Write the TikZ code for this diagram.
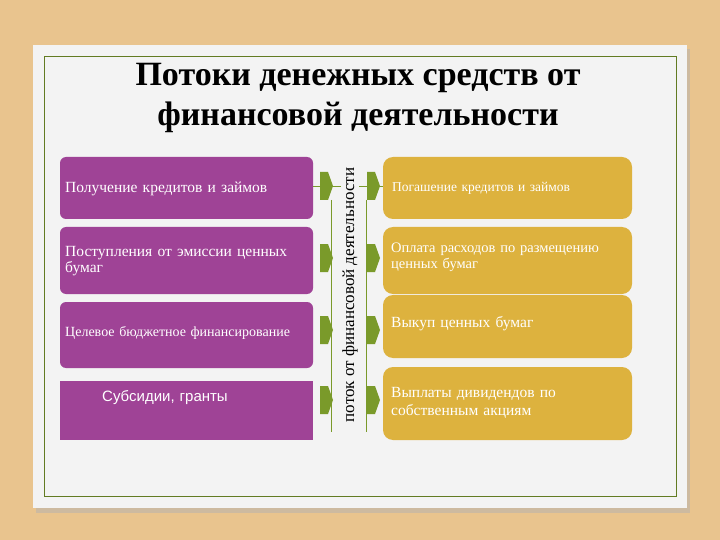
\documentclass[tikz,border=0pt]{standalone}
\usepackage{fontspec}
\setmainfont{Liberation Serif}
\newfontfamily\sansf{Liberation Sans}
\begin{document}
\begin{tikzpicture}[x=1pt,y=-1pt,
  btxt/.style={text=white,font=\fontsize{15.5}{16}\selectfont,align=left,anchor=west,text width=#1,inner sep=0pt},
  chev/.style={fill=leaf,draw=none}]
\definecolor{lilac}{HTML}{9F4396}
\definecolor{gold}{HTML}{DDB23E}
\definecolor{leaf}{HTML}{7A9A2A}
\definecolor{wood}{HTML}{E9C48E}
\definecolor{card}{HTML}{F3F3F3}
\useasboundingbox (0,0) rectangle (720,540);
\fill[wood] (0,0) rectangle (720,540);
\fill[black!30,opacity=0.5] (36,49) rectangle (690,513);
\fill[card] (33,45) rectangle (687,508);
\draw[leaf!80!black,line width=1pt] (44,57) rectangle (676,496);
\node (title) at (358,98) {\fontsize{34}{40}\selectfont\bfseries\begin{tabular}{c}Потоки денежных средств от\\финансовой деятельности\end{tabular}};
% left boxes
\fill[lilac,rounded corners=6pt] (60,157) rectangle (313,219);
\fill[lilac,rounded corners=6pt] (60,227) rectangle (313,294);
\fill[lilac,rounded corners=6pt] (60,302) rectangle (313,368);
\fill[lilac] (60,381) rectangle (313,440);
\node[btxt=248pt] (l1) at (65,189) {Получение кредитов и займов};
\node[btxt=248pt] (l2) at (65,261) {Поступления от эмиссии ценных\\бумаг};
\node[btxt=248pt,font=\fontsize{14}{15}\selectfont] (l3) at (65,333) {Целевое бюджетное финансирование};
\node[btxt=200pt,font=\sansf\fontsize{15}{16}\selectfont] (l4) at (102,398) {Субсидии, гранты};
% right boxes
\fill[gold,rounded corners=10pt] (383,157) rectangle (632,219);
\fill[gold,rounded corners=10pt] (383,227) rectangle (632,294);
\fill[gold,rounded corners=10pt] (383,295) rectangle (632,358);
\fill[gold,rounded corners=10pt] (383,367) rectangle (632,440);
\node[btxt=240pt,font=\fontsize{13.5}{14}\selectfont] (r1) at (392,188) {Погашение кредитов и займов};
\node[btxt=240pt,font=\fontsize{14.5}{16}\selectfont] (r2) at (391,257) {Оплата расходов по размещению\\ценных бумаг};
\node[btxt=240pt,font=\fontsize{15.5}{16}\selectfont] (r3) at (391,324) {Выкуп ценных бумаг};
\node[btxt=240pt,font=\fontsize{15.5}{18}\selectfont] (r4) at (391,403) {Выплаты дивидендов по\\собственным акциям};
% lines
\draw[leaf,line width=0.6pt] (313,186) -- (383,186);
\draw[leaf,line width=0.6pt] (331,200) -- (331,432);
\draw[leaf,line width=0.6pt] (366,200) -- (366,432);
\foreach \y in {186,258,330,400}{
  \fill[chev] (320,\y-14) -- (328,\y-14) -- (333,\y) -- (328,\y+14) -- (320,\y+14) -- cycle;
  \fill[chev] (367,\y-14) -- (375,\y-14) -- (380,\y) -- (375,\y+14) -- (367,\y+14) -- cycle;
}
\node[rotate=90,font=\fontsize{17}{18}\selectfont,fill=card,inner sep=1pt] (mid) at (350,295) {поток от финансовой деятельности};
\end{tikzpicture}
\end{document}
